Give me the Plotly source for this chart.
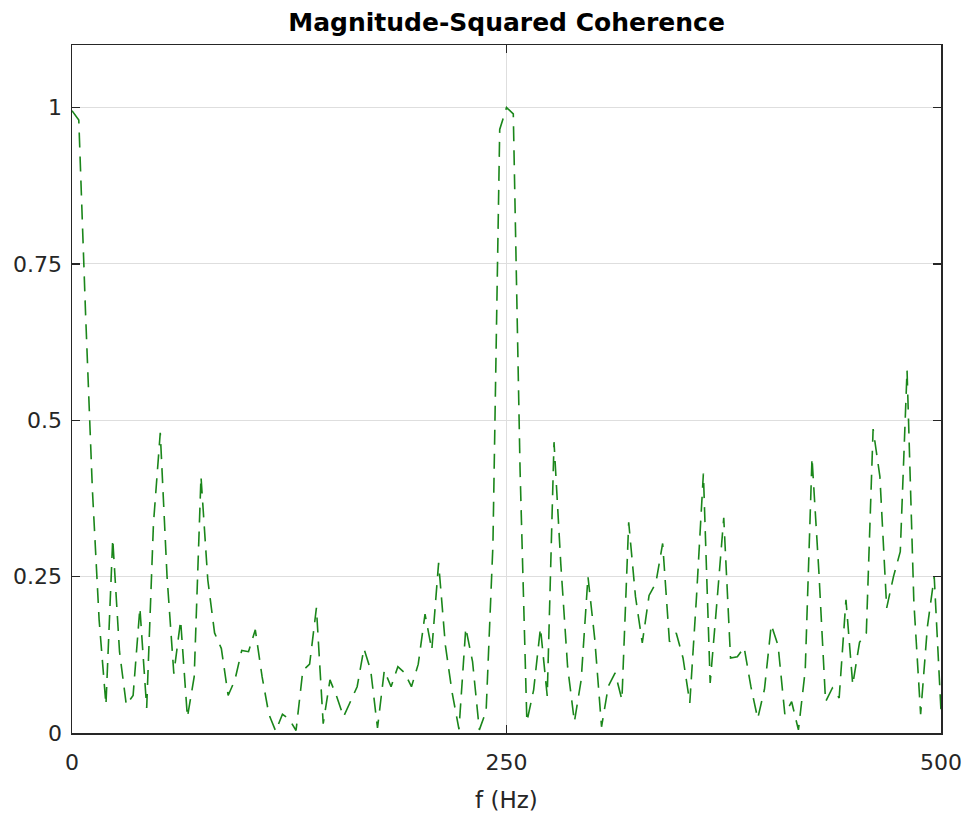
import numpy as np
import plotly.graph_objects as go

# Frequency grid of the estimate (129 bins, 0..500 Hz)
freq_hz = np.linspace(0, 500, 129)

# Magnitude-squared coherence values, bin by bin
coherence = [
    0.995, 0.98, 0.67, 0.39, 0.18, 0.045, 0.31, 0.13, 0.045, 0.06,
    0.20, 0.04, 0.335, 0.48, 0.25, 0.095, 0.18, 0.025, 0.09, 0.41,
    0.245, 0.16, 0.135, 0.06, 0.085, 0.132, 0.13, 0.165, 0.09, 0.03,
    0.003, 0.03, 0.022, 0.004, 0.10, 0.11, 0.20, 0.015, 0.085, 0.058,
    0.026, 0.05, 0.074, 0.135, 0.10, 0.008, 0.10, 0.074, 0.106, 0.096,
    0.074, 0.11, 0.19, 0.133, 0.272, 0.14, 0.064, 0.006, 0.168, 0.114,
    0.005, 0.035, 0.30, 0.965, 1.0, 0.99, 0.42, 0.018, 0.069, 0.168,
    0.059, 0.465, 0.27, 0.106, 0.018, 0.085, 0.25, 0.15, 0.01, 0.075,
    0.096, 0.053, 0.337, 0.218, 0.144, 0.22, 0.24, 0.303, 0.146, 0.16,
    0.12, 0.048, 0.22, 0.415, 0.08, 0.21, 0.344, 0.12, 0.122, 0.137,
    0.074, 0.023, 0.07, 0.173, 0.14, 0.03, 0.05, 0.005, 0.10, 0.44,
    0.26, 0.05, 0.072, 0.056, 0.213, 0.077, 0.145, 0.16, 0.486, 0.41,
    0.20, 0.25, 0.29, 0.58, 0.21, 0.03, 0.17, 0.25, 0.035,
]

x_ticks = [0, 250, 500]
x_tick_labels = ["0", "250", "500"]
y_ticks = [0, 0.25, 0.5, 0.75, 1]
y_tick_labels = ["0", "0.25", "0.5", "0.75", "1"]

title_text = "Magnitude-Squared Coherence"
x_label = "f (Hz)"

AX = "#262626"
GRID = "#dedede"
FONT = "DejaVu Sans"

fig = go.Figure()
fig.add_trace(go.Scatter(
    x=freq_hz, y=coherence, mode="lines",
    line=dict(color="#1a861a", width=1.6, dash="15px,9px"),
    hoverinfo="skip", showlegend=False,
))

axis_common = dict(
    showline=True, linecolor=AX, linewidth=1.5, mirror="ticks",
    ticks="inside", ticklen=8, tickwidth=1.2, tickcolor=AX,
    showgrid=True, gridcolor=GRID, gridwidth=1,
    zeroline=False,
    tickfont=dict(family=FONT, size=22, color=AX),
)

fig.update_xaxes(range=[0, 500], tickvals=x_ticks, ticktext=x_tick_labels,
                 ticklabelstandoff=9, **axis_common)
fig.update_yaxes(range=[0, 1.1], tickvals=y_ticks, ticktext=y_tick_labels,
                 ticklabelstandoff=4, **axis_common)

fig.update_layout(
    width=964, height=818,
    margin=dict(l=72, r=23, t=45, b=85, autoexpand=False),
    paper_bgcolor="white", plot_bgcolor="white",
    title=dict(text="<b>" + title_text + "</b>", x=0.5255, xanchor="center",
               y=1 - 22 / 818, yanchor="middle",
               font=dict(family=FONT, size=25, color="black")),
    annotations=[dict(
        text=x_label, xref="paper", yref="paper", x=0.5, y=(733 - 800) / 688,
        xanchor="center", yanchor="middle", showarrow=False,
        font=dict(family=FONT, size=23, color=AX),
    )],
)

fig.write_html(
    "out.html",
    config={"displayModeBar": False, "staticPlot": True},
    post_script="document.body.style.margin='0';document.body.style.padding='0';",
)
